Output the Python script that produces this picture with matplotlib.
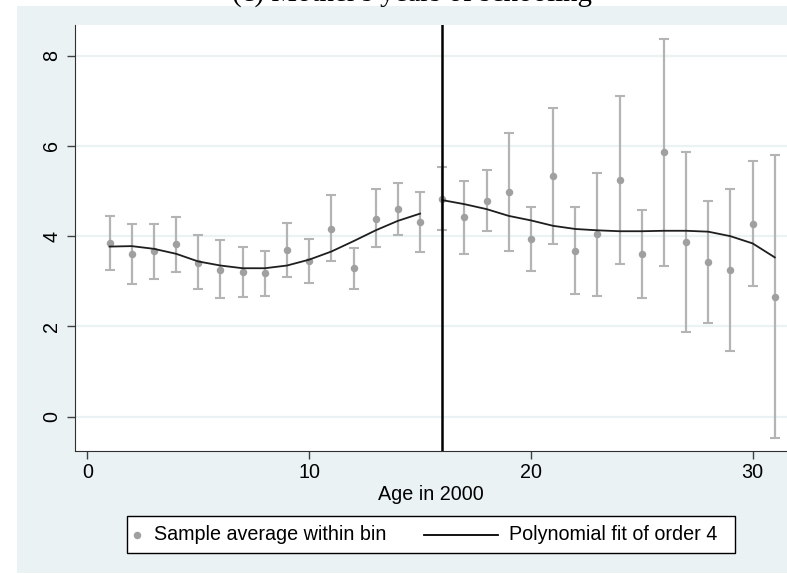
"""Binned means with polynomial fit on each side of the age-16 cutoff"""

import numpy as np
import matplotlib
matplotlib.use("Agg")
import matplotlib.pyplot as plt
from matplotlib.patches import Rectangle
from matplotlib.lines import Line2D

# bins (age in 2000) and sample averages with CI bounds
age = [1, 2, 3, 4, 5, 6, 7, 8, 9, 10, 11, 12, 13, 14, 15,
       16, 17, 18, 19, 20, 21, 22, 23, 24, 25, 26, 27, 28, 29, 30, 31]
avg = [3.84, 3.61, 3.68, 3.82, 3.41, 3.26, 3.20, 3.18, 3.70, 3.45, 4.17, 3.29, 4.39, 4.60, 4.31,
       4.83, 4.42, 4.78, 4.97, 3.93, 5.33, 3.68, 4.05, 5.24, 3.60, 5.86, 3.88, 3.43, 3.24, 4.28, 2.66]
ci_hi = [4.44, 4.27, 4.27, 4.42, 4.02, 3.91, 3.77, 3.68, 4.30, 3.94, 4.91, 3.73, 5.04, 5.17, 4.98,
         5.53, 5.23, 5.46, 6.29, 4.64, 6.84, 4.64, 5.40, 7.11, 4.57, 8.38, 5.86, 4.78, 5.04, 5.67, 5.80]
ci_lo = [3.24, 2.95, 3.05, 3.20, 2.82, 2.63, 2.65, 2.67, 3.10, 2.97, 3.46, 2.84, 3.76, 4.02, 3.65,
         4.14, 3.60, 4.12, 3.67, 3.23, 3.82, 2.72, 2.67, 3.38, 2.64, 3.33, 1.88, 2.08, 1.46, 2.89, -0.48]

# fitted values, left and right of the cutoff
fit_left_x = [1, 2, 3, 4, 5, 6, 7, 8, 9, 10, 11, 12, 13, 14, 15]
fit_left_y = [3.77, 3.78, 3.72, 3.61, 3.44, 3.35, 3.29, 3.29, 3.35, 3.48, 3.66, 3.89, 4.13, 4.34, 4.50]
fit_right_x = [16, 17, 18, 19, 20, 21, 22, 23, 24, 25, 26, 27, 28, 29, 30, 31]
fit_right_y = [4.80, 4.71, 4.60, 4.45, 4.35, 4.23, 4.16, 4.13, 4.11, 4.11, 4.12, 4.12, 4.10, 4.00, 3.84, 3.53]

cutoff = 16
yticks = [0, 2, 4, 6, 8]
xticks = [0, 10, 20, 30]
legend_labels = ["Sample average within bin", "Polynomial fit of order 4"]

BG = "#EAF2F3"
DOT = "#A0A0A0"
FIT = "#1E1E1E"
W, H = 787, 574
FS = 14.2


def fx(px):
    return px / W


def fy(py):
    return 1 - py / H


def plot_rd_figure():
    """Draws the figure and saves it"""
    plt.rcParams["font.family"] = ["Liberation Sans", "DejaVu Sans"]
    fig = plt.figure(figsize=(W / 100, H / 100), dpi=100, facecolor="white")

    # stata-like outer background
    fig.patches.append(Rectangle((fx(17), fy(573)), (W - 17) / W, 567 / H,
                                 transform=fig.transFigure, facecolor=BG,
                                 edgecolor="none", zorder=-5))
    fig.text(fx(412), fy(2), "(c) Mother's years of schooling",
             family="Liberation Serif", fontsize=20.8, ha="center", va="baseline")

    ax = fig.add_axes([fx(75), fy(451), (W - 75) / W, (451 - 25) / H])
    ax.set_zorder(2)
    ax.set_facecolor("white")
    ax.set_xlim(-0.56, 31.55)
    ax.set_ylim(-0.76, 8.68)

    for y in yticks:
        ax.axhline(y, color=BG, lw=1.6, zorder=1)

    lo = np.array(avg) - np.array(ci_lo)
    hi = np.array(ci_hi) - np.array(avg)
    ax.errorbar(age, avg, yerr=[lo, hi], fmt="none", ecolor="#B4B4B4",
                elinewidth=1.6, capsize=3.7, capthick=1.5, zorder=2)
    ax.plot(age, avg, "o", color=DOT, ms=5.4, mec="none", zorder=3)
    ax.plot(fit_left_x, fit_left_y, color=FIT, lw=1.3, zorder=4)
    ax.plot(fit_right_x, fit_right_y, color=FIT, lw=1.3, zorder=4)
    ax.axvline(cutoff, color="black", lw=1.8, zorder=5)

    for side in ["top", "right"]:
        ax.spines[side].set_visible(False)
    ax.spines["left"].set_color("#303030")
    ax.spines["bottom"].set_color("#303030")

    ax.set_yticks(yticks)
    ax.set_xticks(xticks)
    ax.tick_params(axis="y", length=6, width=1, color="#404040",
                   labelsize=FS, labelrotation=90, pad=4)
    ax.tick_params(axis="x", length=6, width=1, color="#404040",
                   labelsize=FS, pad=3)
    for lab in ax.get_yticklabels():
        lab.set_va("center")
    ax.set_xlabel("Age in 2000", fontsize=FS, labelpad=2)

    # legend box drawn stata style: short marker key, long line key
    fig.patches.append(Rectangle((fx(127), fy(553)), 608 / W, 37 / H,
                                 transform=fig.transFigure, facecolor="white",
                                 edgecolor="black", lw=1.0, zorder=3))
    ly = fy(534.5)
    fig.lines.append(Line2D([fx(137)], [ly], transform=fig.transFigure,
                            marker="o", ms=5.4, color=DOT, mec="none",
                            ls="none", zorder=4))
    fig.text(fx(154), ly, legend_labels[0], fontsize=FS, va="center",
             ha="left", zorder=4)
    fig.lines.append(Line2D([fx(424), fx(498)], [ly, ly],
                            transform=fig.transFigure, color="black",
                            lw=1.3, zorder=4))
    fig.text(fx(509), ly, legend_labels[1], fontsize=FS, va="center",
             ha="left", zorder=4)

    fig.savefig("out.png", dpi=100, facecolor="white")


if __name__ == "__main__":
    plot_rd_figure()
